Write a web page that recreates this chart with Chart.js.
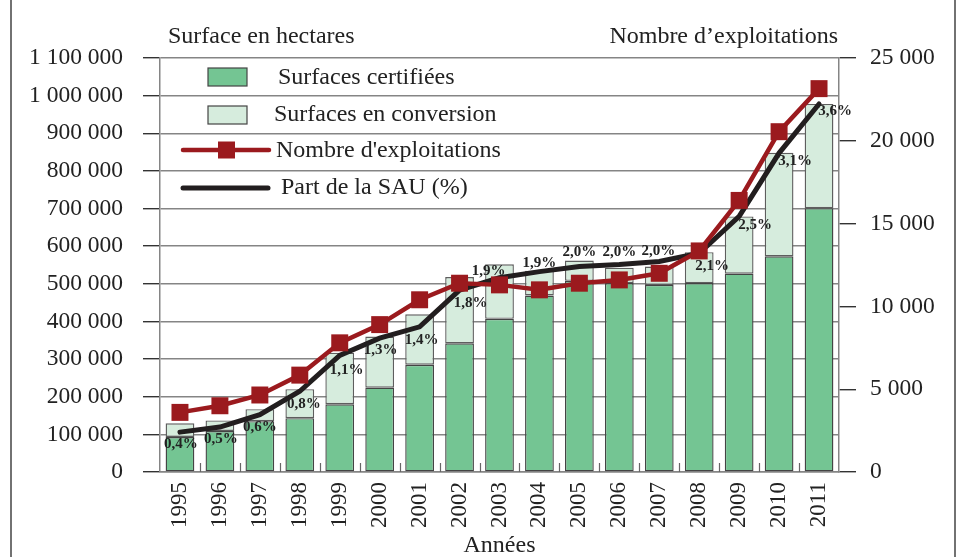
<!DOCTYPE html>
<html>
<head>
    <meta charset="UTF-8">
    <title>Surfaces bio et exploitations</title>
    <script src="https://cdn.jsdelivr.net/npm/chart.js"></script>
    <style>
        body { margin: 0; background: #fff; }
        canvas { display: block; }
    </style>
</head>
<body>
    <canvas id="bio_chart" width="958" height="557"></canvas>
    <script>
        // données
        var annees = ['1995', '1996', '1997', '1998', '1999', '2000', '2001', '2002', '2003',
                      '2004', '2005', '2006', '2007', '2008', '2009', '2010', '2011'];
        var surfacesCertifiees = [93000, 109000, 135000, 143000, 180000, 224000, 285000, 342000, 407000,
                                  469000, 508000, 502000, 497000, 502000, 527000, 573000, 701000];
        var surfacesConversion = [36500, 28000, 32000, 77000, 137000, 136000, 134000, 176000, 145000,
                                  66000, 54000, 41000, 49000, 82000, 152000, 275000, 277000];
        var nbExploitations = [3600, 4000, 4650, 5850, 7800, 8900, 10400, 11400, 11300,
                               11000, 11400, 11600, 12000, 13350, 16400, 20550, 23150];
        var partSAU = [0.39, 0.44, 0.56, 0.79, 1.14, 1.31, 1.42, 1.78, 1.90,
                       1.96, 2.01, 2.03, 2.06, 2.14, 2.50, 3.12, 3.60];
        var partSAULabels = ['0,4%', '0,5%', '0,6%', '0,8%', '1,1%', '1,3%', '1,4%', '1,8%', '1,9%',
                             '1,9%', '2,0%', '2,0%', '2,0%', '2,1%', '2,5%', '3,1%', '3,6%'];

        // décalage des étiquettes % par rapport au point
        var labelOffsets = [[1, 12], [1, 12], [0, 12], [4, 13], [7, 15], [1, 12], [2, 13], [11, 13], [-11, -7],
                            [0, -9], [0, -14], [0, -12], [-1, -10], [13, 13], [16, 9], [16, 8], [16, 7]];

        var VERT = '#74c593';
        var VERT_CLAIR = '#d6ecdd';
        var ROUGE = '#9b1a1e';
        var NOIR = '#221e1f';
        var GRIS = '#858585';
        var SERIF = '"Liberation Serif", "DejaVu Serif", serif';

        function fmt(v) {
            return String(v).replace(/\B(?=(\d{3})+(?!\d))/g, ' ');
        }

        var extrasPlugin = {
            id: 'extras',
            beforeDraw: function(chart) {
                var ctx = chart.ctx;
                ctx.save();
                ctx.strokeStyle = '#444';
                ctx.lineWidth = 1.5;
                ctx.beginPath();
                ctx.moveTo(11, 0); ctx.lineTo(11, 557);
                ctx.moveTo(955, 0); ctx.lineTo(955, 557);
                ctx.stroke();
                ctx.restore();
            },
            afterDatasetsDraw: function(chart) {
                var ctx = chart.ctx;
                var area = chart.chartArea;
                ctx.save();

                // petits repères entre les catégories
                ctx.strokeStyle = '#666';
                ctx.lineWidth = 1.2;
                ctx.beginPath();
                var step = (area.right - area.left) / annees.length;
                for (var i = 1; i < annees.length; i++) {
                    var px = Math.round(area.left + step * i) + 0.5;
                    ctx.moveTo(px, area.bottom);
                    ctx.lineTo(px, area.bottom - 9);
                }
                ctx.stroke();

                // étiquettes de la part de la SAU
                var meta = chart.getDatasetMeta(3);
                ctx.fillStyle = '#222';
                ctx.font = 'bold 15px ' + SERIF;
                ctx.textAlign = 'center';
                ctx.textBaseline = 'middle';
                meta.data.forEach(function(pt, i) {
                    ctx.fillText(partSAULabels[i], pt.x + labelOffsets[i][0], pt.y + labelOffsets[i][1]);
                });

                // légende
                ctx.font = '24px ' + SERIF;
                ctx.textAlign = 'left';
                ctx.strokeStyle = '#444';
                ctx.lineWidth = 1.2;
                ctx.fillStyle = VERT;
                ctx.fillRect(208, 68, 39, 18);
                ctx.strokeRect(208, 68, 39, 18);
                ctx.fillStyle = VERT_CLAIR;
                ctx.fillRect(208, 106, 39, 18);
                ctx.strokeRect(208, 106, 39, 18);

                ctx.lineCap = 'round';
                ctx.strokeStyle = ROUGE;
                ctx.lineWidth = 4.5;
                ctx.beginPath(); ctx.moveTo(183, 150); ctx.lineTo(269, 150); ctx.stroke();
                ctx.fillStyle = ROUGE;
                ctx.fillRect(218, 141.5, 17, 17);
                ctx.strokeStyle = NOIR;
                ctx.lineWidth = 5;
                ctx.beginPath(); ctx.moveTo(183, 188); ctx.lineTo(268, 188); ctx.stroke();

                ctx.fillStyle = '#222';
                ctx.fillText(chart.data.datasets[0].label, 278, 78);
                ctx.fillText(chart.data.datasets[1].label, 274, 115);
                ctx.fillText(chart.data.datasets[2].label, 276, 151);
                ctx.fillText(chart.data.datasets[3].label, 281, 188);

                // titres d'axes
                ctx.fillText('Surface en hectares', 168, 37);
                ctx.textAlign = 'right';
                ctx.fillText('Nombre d\u2019exploitations', 838, 37);
                ctx.textAlign = 'center';
                ctx.fillText('Ann\u00e9es', (area.left + area.right) / 2, 546);
                ctx.restore();
            }
        };

        var ctx = document.getElementById('bio_chart').getContext('2d');
        var chart = new Chart(ctx, {
            type: 'bar',
            data: {
                labels: annees,
                datasets: [{
                    label: 'Surfaces certifiées',
                    data: surfacesCertifiees,
                    backgroundColor: VERT,
                    borderColor: '#444',
                    borderWidth: 1.4,
                    borderSkipped: false,
                    barPercentage: 0.72,
                    categoryPercentage: 1,
                    yAxisID: 'y',
                    order: 2
                }, {
                    label: 'Surfaces en conversion',
                    data: surfacesConversion,
                    backgroundColor: VERT_CLAIR,
                    borderColor: '#5e5e5e',
                    borderWidth: 1.4,
                    borderSkipped: false,
                    barPercentage: 0.72,
                    categoryPercentage: 1,
                    yAxisID: 'y',
                    order: 3
                }, {
                    type: 'line',
                    label: "Nombre d'exploitations",
                    data: nbExploitations,
                    borderColor: ROUGE,
                    backgroundColor: ROUGE,
                    borderWidth: 4.5,
                    pointStyle: 'rect',
                    pointRadius: 12,
                    pointBorderWidth: 0,
                    tension: 0,
                    yAxisID: 'y1',
                    order: 0
                }, {
                    type: 'line',
                    label: 'Part de la SAU (%)',
                    data: partSAU,
                    borderColor: NOIR,
                    borderWidth: 5,
                    borderCapStyle: 'round',
                    pointRadius: 0,
                    tension: 0,
                    yAxisID: 'ySAU',
                    order: 1
                }]
            },
            options: {
                responsive: false,
                animation: false,
                layout: { padding: { top: 58 } },
                plugins: {
                    legend: { display: false },
                    tooltip: { enabled: false }
                },
                scales: {
                    x: {
                        stacked: true,
                        grid: { drawOnChartArea: false, drawTicks: false },
                        border: { color: GRIS, width: 1.5 },
                        ticks: {
                            minRotation: 90,
                            maxRotation: 90,
                            padding: 10,
                            color: '#222',
                            font: { family: SERIF, size: 23 }
                        },
                        afterFit: function(s) { s.height = 85; }
                    },
                    y: {
                        stacked: true,
                        position: 'left',
                        min: 0,
                        max: 1100000,
                        ticks: {
                            stepSize: 100000,
                            padding: 20,
                            color: '#222',
                            font: { family: SERIF, size: 23.5 },
                            callback: function(v) { return fmt(v); }
                        },
                        grid: { color: GRIS, lineWidth: 1.4, tickLength: 17, tickColor: '#333' },
                        border: { color: GRIS, width: 1.5 },
                        afterFit: function(s) { s.width = 160; }
                    },
                    y1: {
                        position: 'right',
                        min: 0,
                        max: 25000,
                        ticks: {
                            stepSize: 5000,
                            padding: 14,
                            color: '#222',
                            font: { family: SERIF, size: 23.5 },
                            callback: function(v) { return fmt(v); }
                        },
                        grid: { drawOnChartArea: false, tickLength: 17, tickColor: '#333', lineWidth: 1.4 },
                        border: { color: GRIS, width: 1.5 },
                        afterFit: function(s) { s.width = 119; }
                    },
                    ySAU: {
                        display: false,
                        min: 0,
                        max: 4.05
                    }
                }
            },
            plugins: [extrasPlugin]
        });
    </script>
</body>
</html>
